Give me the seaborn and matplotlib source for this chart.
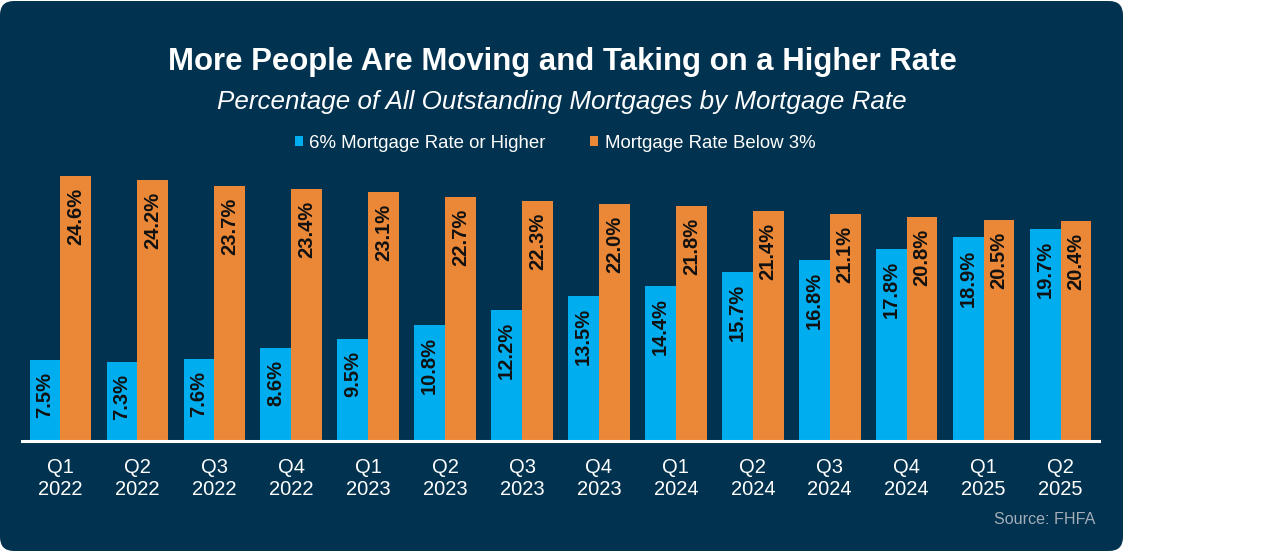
import matplotlib
matplotlib.use("Agg")
import matplotlib.pyplot as plt
import matplotlib.transforms as mtransforms
from matplotlib.patches import FancyBboxPatch, Patch
import seaborn as sns
import pandas as pd

# ---- data ----
quarters = ["Q1\n2022", "Q2\n2022", "Q3\n2022", "Q4\n2022",
            "Q1\n2023", "Q2\n2023", "Q3\n2023", "Q4\n2023",
            "Q1\n2024", "Q2\n2024", "Q3\n2024", "Q4\n2024",
            "Q1\n2025", "Q2\n2025"]
rate_6_or_higher = [7.5, 7.3, 7.6, 8.6, 9.5, 10.8, 12.2, 13.5, 14.4, 15.7, 16.8, 17.8, 18.9, 19.7]
rate_below_3 = [24.6, 24.2, 23.7, 23.4, 23.1, 22.7, 22.3, 22.0, 21.8, 21.4, 21.1, 20.8, 20.5, 20.4]
series_names = ["6% Mortgage Rate or Higher", "Mortgage Rate Below 3%"]
title = "More People Are Moving and Taking on a Higher Rate"
subtitle = "Percentage of All Outstanding Mortgages by Mortgage Rate"
source = "Source: FHFA"

# ---- styling ----
NAVY = "#01324F"
BLUE = "#00AEEF"
ORANGE = "#EB8838"
W, H = 1286, 551

sns.set_theme(style="white")
plt.rcParams["font.family"] = ["Liberation Sans", "DejaVu Sans"]

df = pd.DataFrame({
    "quarter": quarters * 2,
    "value": rate_6_or_higher + rate_below_3,
    "series": [series_names[0]] * len(quarters) + [series_names[1]] * len(quarters),
})

fig = plt.figure(figsize=(W / 100, H / 100), dpi=100, facecolor="white")

bg = FancyBboxPatch((0, 0), 1123, 550, boxstyle="round,pad=0,rounding_size=14",
                    transform=mtransforms.IdentityTransform(), facecolor=NAVY,
                    edgecolor="none", zorder=-10)
fig.add_artist(bg)

ax_left, ax_right = 22 / W, 1099 / W
ax_bottom, ax_top = (H - 441) / H, (H - 150) / H
ax = fig.add_axes([ax_left, ax_bottom, ax_right - ax_left, ax_top - ax_bottom])
ax.set_facecolor("none")

sns.barplot(data=df, x="quarter", y="value", hue="series", order=quarters,
            hue_order=series_names, palette=[BLUE, ORANGE], width=0.8,
            saturation=1, legend=False, linewidth=0, edgecolor="none", ax=ax)

ax.set_xlim(-0.5, len(quarters) - 0.5)
ax.set_ylim(0, 291 / 10.77)
ax.set_xlabel("")
ax.set_ylabel("")
ax.set_yticks([])
for s in ["top", "left", "right"]:
    ax.spines[s].set_visible(False)
ax.spines["bottom"].set_color("white")
ax.spines["bottom"].set_linewidth(2.2)
ax.spines["bottom"].set_zorder(5)
ax.tick_params(axis="x", length=0, pad=12, labelsize=14.5, labelcolor="white")
for lbl in ax.get_xticklabels():
    lbl.set_linespacing(1.2)

for cont in ax.containers:
    for bar in cont:
        h = bar.get_height()
        ax.annotate(f"{h:.1f}%", xy=(bar.get_x() + bar.get_width() / 2, h),
                    xytext=(0, -12), textcoords="offset pixels",
                    rotation=90, ha="center", va="top", fontsize=14.5,
                    fontweight="bold", color="#111111")

cx = 562 / W
fig.text(cx, 1 - 62 / H, title, ha="center", va="center", fontsize=22.4,
         fontweight="bold", color="white")
fig.text(cx, 1 - 102 / H, subtitle, ha="center", va="center", fontsize=18.7,
         style="italic", color="white")

handles = [Patch(facecolor=BLUE, edgecolor="none"), Patch(facecolor=ORANGE, edgecolor="none")]
leg = fig.legend(handles, series_names, loc="center", bbox_to_anchor=(555 / W, 1 - 143 / H),
                 ncol=2, frameon=False, fontsize=13.4, handlelength=0.45, handleheight=0.45,
                 handletextpad=0.35, columnspacing=2.37, labelcolor="white")

fig.text(1095 / W, 1 - 519 / H, source, ha="right", va="center", fontsize=11.6,
         color="#A3ADB8")

fig.savefig("out.png", dpi=100, facecolor="white")
